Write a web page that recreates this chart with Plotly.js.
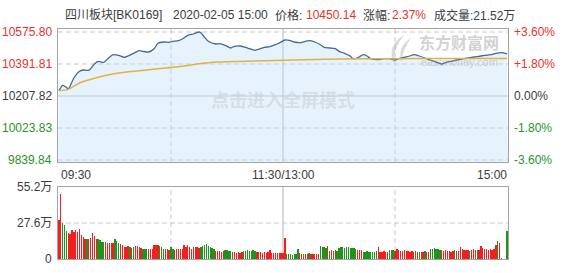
<!DOCTYPE html>
<html><head><meta charset="utf-8">
<script src="https://cdn.plot.ly/plotly-3.0.1.min.js"></script>
<style>html,body{margin:0;padding:0;background:#fff;}#chart{width:573px;height:273px;}</style>
</head><body><div id="chart"></div>
<script>
// ---- data ----
const prevClose = 10207.82;
const leftTicks = [10575.80, 10391.81, 10207.82, 10023.83, 9839.84];
const leftTickText = ["10575.80", "10391.81", "10207.82", "10023.83", "9839.84"];
const rightTickText = ["+3.60%", "+1.80%", "0.00%", "-1.80%", "-3.60%"];
const volTicks = [55.2, 27.6, 0];
const volTickText = ["55.2万", "27.6万", "0"];
const timeLabels = ["09:30", "11:30/13:00", "15:00"];

const priceIdx = [0,2,4,5,8,11,13,16,19,21,24,27,29,32,35,37,40,43,45,48,51,53,56,59,61,64,67,69,72,75,76,78,80,84,86,89,92,94,97,100,102,105,108,110,113,116,118,121,124,126,129,132,134,137,140,142,145,148,150,153,156,157,159,161,163,165,167,171,174,177,180,182,185,188,190,193,196,198,201,204,205,207,210,213,217,221,224,228,231,234,237,240];
const price = [10238.3,10269.3,10257.8,10248.1,10311.3,10349.8,10357.3,10355.6,10391.8,10407.3,10401.6,10430.3,10445.3,10441.8,10430.3,10437.8,10453.3,10468.3,10464.8,10460.8,10479.8,10510.8,10518.3,10516.6,10522.3,10525.8,10541.3,10556.8,10564.3,10575.8,10571.8,10545.3,10522.3,10506.8,10508.5,10499.3,10483.8,10493.6,10495.3,10487.8,10479.8,10470.6,10479.8,10487.8,10491.3,10502.8,10512.6,10529.8,10525.8,10518.3,10514.3,10522.3,10525.8,10518.3,10502.8,10487.8,10483.8,10479.8,10464.8,10453.3,10437.8,10426.3,10422.3,10433.8,10445.3,10437.8,10422.3,10416.5,10422.3,10422.3,10414.8,10422.3,10430.3,10437.8,10445.3,10437.8,10426.3,10416.5,10407.3,10395.8,10391.8,10399.3,10407.3,10414.8,10422.3,10430.3,10433.8,10441.8,10445.3,10453.3,10456.8,10450.14];

const avgIdx = [0,5,11,21,32,43,53,64,80,100,121,142,161,180,209,240];
const avgPrice = [10238.3,10246.0,10282.6,10315.3,10340.1,10353.3,10364.8,10376.3,10399.3,10407.3,10413.1,10418.8,10422.3,10422.3,10423.4,10423.4];

// volume per minute (万), index 0..240
const volume = [
29.9,49.9,27.4,26.1,21.7,20.2,19.2,22.2,21.0,22.2,
21.0,22.8,18.4,16.6,15.6,15.1,15.1,15.9,19.7,17.6,
15.1,15.6,14.6,13.0,13.0,13.0,12.5,12.0,12.0,12.0,
15.1,14.1,12.5,11.5,10.5,9.5,8.9,10.0,9.5,8.4,
8.9,10.0,10.0,8.9,8.4,7.9,7.9,7.9,7.4,7.4,
7.4,11.0,10.5,11.0,10.0,9.5,7.9,7.4,7.4,6.9,
8.9,7.4,6.9,7.4,7.9,7.4,7.9,10.5,8.9,10.5,
9.5,7.9,8.9,9.5,8.9,8.4,9.0,10.2,10.7,11.5,
10.0,9.2,8.6,8.0,6.4,5.9,6.2,5.4,5.8,6.9,
6.6,6.0,6.4,5.2,5.6,4.8,5.3,4.6,5.0,6.0,
6.4,6.8,6.2,5.8,6.6,5.9,5.6,5.0,5.4,4.7,
5.2,4.9,5.6,6.9,4.8,4.5,4.9,4.3,4.6,4.4,
4.8,16.4,4.0,3.6,3.9,3.4,4.2,3.8,7.4,4.3,
4.0,3.8,4.2,3.9,4.3,4.0,3.7,4.1,3.9,4.2,
10.0,9.2,8.9,8.6,10.0,6.4,6.8,6.2,6.6,6.0,
8.4,8.9,9.2,8.6,8.9,9.4,8.8,8.2,8.6,7.9,
6.9,7.2,6.6,5.6,5.2,5.8,5.4,5.0,5.6,5.3,
5.9,8.9,5.6,5.2,5.8,5.4,5.0,6.9,6.6,7.2,
6.2,7.4,6.8,6.4,6.0,6.6,5.8,6.2,5.6,6.0,
5.4,5.8,5.2,5.6,5.0,5.4,5.8,5.2,5.6,7.4,
7.9,8.2,7.6,7.9,7.2,6.9,6.2,6.6,5.8,6.4,
5.6,6.0,6.8,6.2,5.9,8.9,7.4,7.0,6.6,7.2,
6.4,6.9,7.6,6.6,7.0,6.9,10.0,8.2,7.4,7.6,
7.2,7.4,7.0,7.8,10.7,14.1,12.5,0.8,0,0,
21.7];
// R = up minute (red), G = down minute (green)
const volDir = ("RRGGGRRRRR"+"RRRRRGRRRR"+"RGGGGRRRRR"+"GGGRRRRRGR"+"GRRRRGGGRR"+
  "RRRRGGGRRR"+"GGRRRRRRRR"+"RRRRRRGGGG"+"GGGGRRRRRG"+"GGGRRRRRRG"+
  "GGGGGGRRRR"+"RRRRRRRRRR"+"RRGGGGGGGR"+"RGRRGRRRRR"+"GGGGRGRGRG"+
  "GGGGGGGGGG"+"RRRGGGGGGG"+"GRRRRRRGGG"+"RRRRRRRRRR"+"RGRGRRGRRG"+
  "GGGGGRRRRR"+"RRGRRRRRRR"+"GRRRGRRRRR"+"RRRRRGRRRR"+"G").split("");

// ---- styling ----
const RED = '#e8312c', GREEN = '#2a922a', GRAY = '#3c3c3c';
const FONT = 'Arial, "Liberation Sans", "Noto Sans CJK SC", sans-serif';
const W = 573, H = 273;
const px = v => v / W, py = v => 1 - v / H;
const xRange = [-0.5, 240.5];
const yLo = 10593.05 - (162 - 29) * (10575.80 - 9839.84) / 128; // bottom of frame
const yRange = [yLo, 10593.05];
const volIdx = volume.map((_, i) => i);

const traces = [
  {x: [xRange[0], xRange[1]], y: [yLo, yLo], xaxis: 'x', yaxis: 'y', mode: 'lines',
   line: {width: 0, color: 'rgba(0,0,0,0)'}, hoverinfo: 'skip'},
  {x: priceIdx, y: price, xaxis: 'x', yaxis: 'y', mode: 'lines', fill: 'tonexty',
   fillcolor: 'rgba(189,224,246,0.38)', line: {color: '#41679e', width: 1.3, shape: 'spline', smoothing: 0.6}},
  {x: avgIdx, y: avgPrice, xaxis: 'x', yaxis: 'y', mode: 'lines',
   line: {color: '#e2b143', width: 1.5, shape: 'spline', smoothing: 0.8}},
  {x: volIdx, y: volume, type: 'bar', xaxis: 'x2', yaxis: 'y2', width: 0.72,
   marker: {color: volDir.map(d => d === 'R' ? '#f51d1d' : '#1b951b'), line: {width: 0}}}
];

const shapes = [];
leftTicks.forEach((v, k) => {
  if (k === 2) {
    shapes.push({type: 'line', xref: 'x', yref: 'y', x0: xRange[0], x1: xRange[1], y0: v, y1: v,
      line: {color: '#b3c2d8', width: 1}, layer: 'below'});
  } else {
    shapes.push({type: 'line', xref: 'x', yref: 'y', x0: xRange[0], x1: xRange[1], y0: v, y1: v,
      line: {color: '#c9c9c9', width: 1, dash: '5px,3px'}, layer: 'below'});
  }
});
[['x', 'y domain'], ['x2', 'y2 domain']].forEach(([xr, yr]) => {
  [60, 180].forEach(t => shapes.push({type: 'line', xref: xr, yref: yr, x0: t, x1: t, y0: 0, y1: 1,
    line: {color: '#c9c9c9', width: 1, dash: '5px,3px'}, layer: 'below'}));
  shapes.push({type: 'line', xref: xr, yref: yr, x0: 120, x1: 120, y0: 0, y1: 1,
    line: {color: '#b4b4b4', width: 1}, layer: 'below'});
});
shapes.push({type: 'line', xref: 'x2', yref: 'y2', x0: xRange[0], x1: xRange[1], y0: volTicks[1], y1: volTicks[1],
  line: {color: '#c9c9c9', width: 1, dash: '5px,3px'}, layer: 'below'});
// eastmoney swirl watermark
shapes.push({type: 'path', xref: 'paper', yref: 'paper', layer: 'above',
  path: `M ${px(404)} ${py(35)} Q ${px(386)} ${py(46)} ${px(394)} ${py(64)} Q ${px(392)} ${py(50)} ${px(404)} ${py(35)} Z`,
  fillcolor: 'rgba(170,170,170,0.45)', line: {width: 0}});
shapes.push({type: 'path', xref: 'paper', yref: 'paper', layer: 'above',
  path: `M ${px(411)} ${py(38)} Q ${px(396)} ${py(48)} ${px(402)} ${py(62)} Q ${px(402)} ${py(50)} ${px(411)} ${py(38)} Z`,
  fillcolor: 'rgba(170,170,170,0.45)', line: {width: 0}});

const ann = [];
const tickCol = [RED, RED, GRAY, GREEN, GREEN];
leftTicks.forEach((v, k) => {
  ann.push({xref: 'paper', yref: 'y', x: px(54), y: v, xanchor: 'right', yanchor: 'middle', showarrow: false,
    text: leftTickText[k], font: {family: FONT, size: 12, color: tickCol[k]}});
  ann.push({xref: 'paper', yref: 'y', x: px(512), y: v, xanchor: 'left', yanchor: 'middle', showarrow: false,
    text: rightTickText[k], font: {family: FONT, size: 12, color: tickCol[k]}});
});
volTicks.forEach((v, k) => ann.push({xref: 'paper', yref: 'y2', x: px(54), y: v, xanchor: 'right', yanchor: 'middle',
  showarrow: false, text: volTickText[k], font: {family: FONT, size: 12, color: GRAY}}));
ann.push({xref: 'paper', yref: 'paper', x: px(59), y: py(175), xanchor: 'left', yanchor: 'middle', showarrow: false,
  text: timeLabels[0], font: {family: FONT, size: 12, color: GRAY}});
ann.push({xref: 'x', yref: 'paper', x: 120, y: py(175), xanchor: 'center', yanchor: 'middle', showarrow: false,
  text: timeLabels[1], font: {family: FONT, size: 12, color: GRAY}});
ann.push({xref: 'paper', yref: 'paper', x: px(509), y: py(175), xanchor: 'right', yanchor: 'middle', showarrow: false,
  text: timeLabels[2], font: {family: FONT, size: 12, color: GRAY}});

// header
const header = [
  [63, '四川板块[BK0169]', GRAY], [171, '2020-02-05 15:00', GRAY], [273, '价格:', GRAY],
  [304, '10450.14', RED], [361, '涨幅:', GRAY], [390, '2.37%', RED], [432, '成交量:21.52万', GRAY]
];
header.forEach(([x, t, c]) => ann.push({xref: 'paper', yref: 'paper', x: px(x), y: py(15), xanchor: 'left',
  yanchor: 'middle', showarrow: false, text: t, font: {family: FONT, size: 12, color: c}}));

// watermarks
ann.push({xref: 'paper', yref: 'paper', x: px(283), y: py(99), xanchor: 'center', yanchor: 'middle', showarrow: false,
  text: '<b>点击进入全屏模式</b>', font: {family: '"Noto Sans CJK SC", sans-serif', size: 18, color: 'rgba(200,205,210,0.55)'}});
ann.push({xref: 'paper', yref: 'paper', x: px(459), y: py(42), xanchor: 'center', yanchor: 'middle', showarrow: false,
  borderpad: 0, text: '<b>东方财富网</b>', font: {family: '"Noto Sans CJK SC", sans-serif', size: 16, color: 'rgba(165,165,165,0.5)'}});
ann.push({xref: 'paper', yref: 'paper', x: px(459), y: py(62), xanchor: 'center', yanchor: 'middle', showarrow: false,
  borderpad: 0, text: 'eastmoney.com', font: {family: FONT, size: 11, color: 'rgba(165,165,165,0.5)'}});

const axBase = {showgrid: false, zeroline: false, showticklabels: false, ticks: '', showline: true,
  mirror: true, linecolor: '#a3a3a3', linewidth: 1, fixedrange: true};
const layout = {
  width: W, height: H, margin: {l: 0, r: 0, t: 0, b: 0}, paper_bgcolor: '#fff', plot_bgcolor: '#fff',
  showlegend: false, bargap: 0,
  xaxis: Object.assign({}, axBase, {domain: [px(58), px(508)], range: xRange, anchor: 'y'}),
  yaxis: Object.assign({}, axBase, {domain: [py(162), py(29)], range: yRange, anchor: 'x'}),
  xaxis2: Object.assign({}, axBase, {domain: [px(58), px(508)], range: xRange, anchor: 'y2'}),
  yaxis2: Object.assign({}, axBase, {domain: [py(259), py(187)], range: [0, 55.2], anchor: 'x2'}),
  shapes: shapes, annotations: ann
};
Plotly.newPlot('chart', traces, layout, {displayModeBar: false, staticPlot: true});
</script></body></html>
